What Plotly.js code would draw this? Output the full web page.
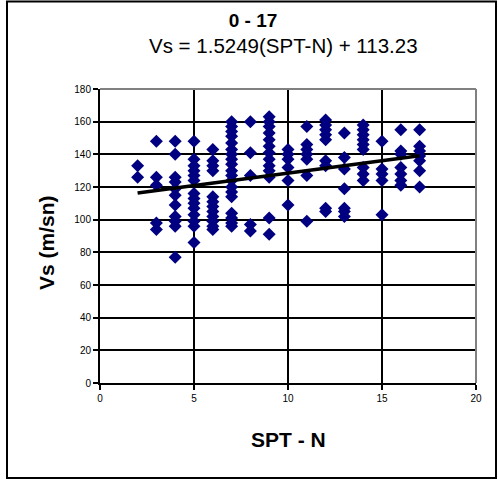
<!DOCTYPE html>
<html>
<head>
<meta charset="utf-8">
<script src="https://cdn.plot.ly/plotly-3.0.1.min.js"></script>
<style>
  html, body { margin: 0; padding: 0; background: #fff; }
  #chart { width: 498px; height: 481px; }
</style>
</head>
<body>
<div id="chart"></div>
<script>
// SPT-N values and the Vs values observed at each
const sptN = [2, 3, 4, 5, 6, 7, 8, 9, 10, 11, 12, 13, 14, 15, 16, 17];
const vsByN = [
  [133, 126],
  [148, 126, 121, 98, 94],
  [148, 140, 126, 123, 119, 115, 109, 102, 99, 96, 77],
  [148, 137, 133, 130, 127, 124, 116, 113, 110, 107, 103, 99, 96, 86],
  [143, 136, 133, 130, 114, 111, 108, 105, 102, 99, 96, 94],
  [160, 157, 154, 151, 147, 143, 140, 137, 134, 130, 127, 124, 120, 117, 114, 104, 101, 98, 96],
  [160, 141, 127, 97, 93],
  [163, 160, 157, 153, 149, 145, 141, 137, 133, 130, 126, 101, 91],
  [143, 140, 137, 132, 124, 109],
  [157, 146, 143, 140, 137, 127, 99],
  [161, 158, 155, 152, 149, 136, 133, 107, 105],
  [153, 138, 131, 119, 107, 105, 102],
  [158, 155, 152, 149, 146, 143, 132, 128, 124],
  [148, 131, 128, 124, 103],
  [155, 142, 140, 132, 128, 124, 121],
  [155, 145, 142, 139, 136, 130, 120]
];
// Regression shown on the chart
const trendSlope = 1.5249;
const trendIntercept = 113.23;
const trendRange = [2, 17];
const chartTitle = "0 - 17";
const equationText = "Vs = 1.5249(SPT-N) + 113.23";
const xTitle = "SPT - N";
const yTitle = "Vs (m/sn)";
const xTicks = [0, 5, 10, 15, 20];
const yTicks = [0, 20, 40, 60, 80, 100, 120, 140, 160, 180];

const px = [], py = [];
sptN.forEach((n, i) => vsByN[i].forEach(v => { px.push(n); py.push(v); }));

const trendX = trendRange.slice();
const trendY = trendX.map(x => trendSlope * x + trendIntercept);

const font = "Liberation Sans, Arial, sans-serif";
// plot area in pixels: x 100..476, y 89..383
const L = 100, R = 476, T = 89, B = 383;
const pxX = p => (p - L) / (R - L);
const pxY = p => (B - p) / (B - T);

const data = [
  {
    type: "scatter", mode: "markers", x: px, y: py,
    marker: { symbol: "diamond", size: 10, color: "#000080", line: { width: 0 } },
    hoverinfo: "skip", showlegend: false
  },
  {
    type: "scatter", mode: "lines", x: trendX, y: trendY,
    line: { color: "#000000", width: 3.5 },
    hoverinfo: "skip", showlegend: false
  }
];

const layout = {
  width: 498, height: 481,
  margin: { l: L, r: 498 - R, t: T, b: 481 - B, pad: 0 },
  paper_bgcolor: "#ffffff", plot_bgcolor: "#ffffff",
  showlegend: false,
  font: { family: font, color: "#000" },
  xaxis: {
    range: [0, 20], tickvals: xTicks, ticktext: xTicks.map(String),
    showgrid: true, gridcolor: "#000", gridwidth: 2,
    zeroline: false, showline: true, linecolor: "#000", linewidth: 2,
    ticks: "outside", ticklen: 5, tickcolor: "#000", tickwidth: 2,
    tickfont: { size: 10, family: font, color: "#000" },
    fixedrange: true
  },
  yaxis: {
    range: [0, 180], tickvals: yTicks, ticktext: yTicks.map(String),
    showgrid: true, gridcolor: "#000", gridwidth: 2,
    zeroline: false, showline: true, linecolor: "#000", linewidth: 2,
    ticks: "outside", ticklen: 5, tickcolor: "#000", tickwidth: 2,
    tickfont: { size: 10, family: font, color: "#000" },
    fixedrange: true
  },
  title: {
    text: "<b>" + chartTitle + "</b>",
    font: { size: 19, family: font, color: "#000" },
    x: 253 / 498, xanchor: "center", y: 1 - 20.5 / 481, yanchor: "middle"
  },
  annotations: [
    {
      text: equationText, xref: "paper", yref: "paper", borderpad: 0,
      x: pxX(283.5), y: pxY(46), xanchor: "center", yanchor: "middle",
      showarrow: false, font: { size: 20.5, family: font, color: "#000" }
    },
    {
      text: "<b>" + xTitle + "</b>", xref: "paper", yref: "paper",
      x: pxX(288), y: pxY(439), xanchor: "center", yanchor: "middle",
      showarrow: false, font: { size: 21, family: font, color: "#000" }
    },
    {
      text: "<b>" + yTitle + "</b>", xref: "paper", yref: "paper",
      x: pxX(46), y: pxY(242), xanchor: "center", yanchor: "middle", textangle: -90,
      showarrow: false, font: { size: 21, family: font, color: "#000" }
    }
  ],
  shapes: [
    // gray plot-area border (top and right)
    { type: "line", xref: "paper", yref: "paper", x0: 0, x1: 1, y0: 1, y1: 1, line: { color: "#808080", width: 2 } },
    { type: "line", xref: "paper", yref: "paper", x0: 1, x1: 1, y0: 0, y1: 1, line: { color: "#808080", width: 2 } },
    // outer chart frame
    { type: "rect", xref: "paper", yref: "paper",
      x0: pxX(7), x1: pxX(496), y0: pxY(478), y1: pxY(1.5),
      line: { color: "#000", width: 2 }, fillcolor: "rgba(0,0,0,0)", layer: "below" }
  ]
};

Plotly.newPlot("chart", data, layout, { displayModeBar: false, staticPlot: true });
</script>
</body>
</html>
